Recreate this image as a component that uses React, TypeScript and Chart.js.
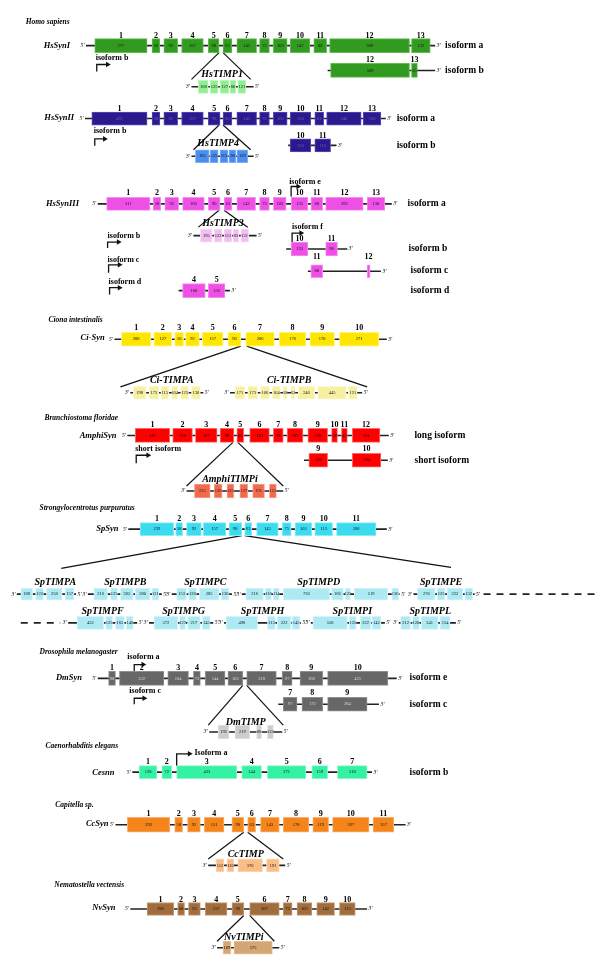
import React, { useEffect, useRef } from 'react';
import { Chart, registerables } from 'chart.js';

Chart.register(...registerables);

const SERIF = '"Liberation Serif", "Times New Roman", serif';

// ---------- colours ----------
const C_GREEN = '#329a20', E_GREEN = '#5fc04c';
const C_LGREEN = '#92ee92', E_LGREEN = '#b9f7b9';
const C_NAVY = '#2b1a8e', E_NAVY = '#5a4bc0';
const C_BLUE = '#4a8ef0', E_BLUE = '#7fb0f7';
const C_MAG = '#ee50e6', E_MAG = '#f78ef3';
const C_LMAG = '#f2bdf0', E_LMAG = '#f8dcf7';
const C_YEL = '#ffe600', E_YEL = '#fff27a';
const C_LYEL = '#f6f0a2', E_LYEL = '#fbf8d0';
const C_RED = '#ff0000', E_RED = '#ff6a6a';
const C_SAL = '#f26a4d', E_SAL = '#f8a08c';
const C_CYAN = '#3cdcf0', E_CYAN = '#8aebf7';
const C_LCYAN = '#aeeaf4', E_LCYAN = '#d2f4fa';
const C_GREY = '#676767', E_GREY = '#8f8f8f';
const C_LGREY = '#cdcdcd', E_LGREY = '#e2e2e2';
const C_TEAL = '#33f2a3', E_TEAL = '#86f8c8';
const C_ORA = '#f5841b', E_ORA = '#f9b070';
const C_LORA = '#fbbd86', E_LORA = '#fdd8b6';
const C_BRN = '#a26d3c', E_BRN = '#c49a70';
const C_LBRN = '#d4a674', E_LBRN = '#e6c6a2';

// ---------- exon data (start, end along the drawing axis) & sizes ----------
const HS1_EXONS: [number, number][] = [[92,145],[150,158],[162,176],[180,202],[207,218],[222,231],[236,256],[259,269],[273,287],[290,310],[314,327],[330,411],[413,432]];
const HS1_SIZES = ['377','58','92','157','98','63','143','75','103','147','88','589','132'];
const HS1_NUMS = ['1','2','3','4','5','6','7','8','9','10','11','12','13'];
const HS1B_EXONS: [number, number][] = [[331,411],[413,419]];
const HS1B_SIZES = ['589','25'];
const HS1B_NUMS = ['12','13'];
const HSTIMP1_EXONS: [number, number][] = [[197,207],[209,217],[219,228],[229,235],[237,245]];
const HSTIMP1_SIZES = ['168','125','127','80','121'];

const HS2_EXONS: [number, number][] = [[89,145],[150,158],[162,176],[180,202],[207,219],[222,231],[236,256],[259,269],[273,287],[290,311],[315,324],[327,362],[364,382]];
const HS2_SIZES = ['491','58','92','157','98','63','143','75','103','150','61','240','130'];
const HS2_NUMS = ['1','2','3','4','5','6','7','8','9','10','11','12','13'];
const HS2B_EXONS: [number, number][] = [[290,311],[315,331]];
const HS2B_SIZES = ['150','110'];
const HS2B_NUMS = ['10','11'];
const HSTIMP4_EXONS: [number, number][] = [[194,208],[209,217],[219,227],[228,235],[236,247]];
const HSTIMP4_SIZES = ['195','125','115','98','129'];

const HS3_EXONS: [number, number][] = [[104,148],[151,159],[163,177],[181,203],[207,219],[223,231],[236,255],[259,269],[273,286],[291,308],[311,323],[326,364],[368,386]];
const HS3_SIZES = ['311','58','92','160','90','63','143','75','103','135','88','292','130'];
const HS3_NUMS = ['1','2','3','4','5','6','7','8','9','10','11','12','13'];
const HSTIMP3_EXONS: [number, number][] = [[199,211],[213,221],[223,231],[232,238],[240,248]];
const HSTIMP3_SIZES = ['195','122','112','83','121'];
const HS3B_EXONS: [number, number][] = [[291,308],[326,338]];
const HS3B_SIZES = ['135','98'];
const HS3B_NUMS = ['10','11'];
const HS3C_EXONS: [number, number][] = [[311,323],[368,371]];
const HS3C_SIZES = ['88',''];
const HS3C_NUMS = ['11','12'];
const HS3D_EXONS: [number, number][] = [[181,204],[207,224]];
const HS3D_SIZES = ['160','135'];
const HS3D_NUMS = ['4','5'];

const CI_EXONS: [number, number][] = [[119,149],[152,170],[173,182],[184,198],[201,222],[227,240],[245,274],[279,306],[310,335],[340,380]];
const CI_SIZES = ['288','127','58','92','157','90','286','176','170','271'];
const CI_NUMS = ['1','2','3','4','5','6','7','8','9','10'];
const CITIMPA_EXONS: [number, number][] = [[131,144],[147,157],[159,167],[170,176],[179,187],[190,199]];
const CITIMPA_SIZES = ['198','173','115','104','125','130'];
const CITIMPB_EXONS: [number, number][] = [[234,244],[247,257],[260,269],[272,280],[283,287],[291,295],[298,315],[318,347],[349,358]];
const CITIMPB_SIZES = ['171','173','106','104','58','63','240','445','121'];

const AM_EXONS: [number, number][] = [[133,168],[171,191],[194,216],[219,233],[236,243],[249,269],[273,283],[287,303],[308,328],[332,338],[342,348],[353,381]];
const AM_SIZES = ['249','150','157','99','63','143','78','103','128','38','45','184'];
const AM_NUMS = ['1','2','3','4','5','6','7','8','9','10','11','12'];
const AMS_EXONS: [number, number][] = [[309,328],[353,382]];
const AMS_SIZES = ['128','184'];
const AMS_NUMS = ['9','10'];
const AMTIMP_EXONS: [number, number][] = [[193,209],[213,221],[226,233],[239,247],[252,264],[269,276]];
const AMTIMP_SIZES = ['225','126','125','127','191','112'];

const SP_EXONS: [number, number][] = [[138,172],[174,181],[185,200],[202,225],[228,241],[244,251],[256,278],[282,291],[295,312],[315,333],[337,377]];
const SP_SIZES = ['239','58','92','157','98','63','143','75','103','113','288'];
const SP_NUMS = ['1','2','3','4','5','6','7','8','9','10','11'];
const SPA_EXONS: [number, number][] = [[17,29],[32,40],[43,59],[62,71]];
const SPA_SIZES = ['188','122','258','157'];
const SPB_EXONS: [number, number][] = [[91,105],[108,115],[118,131],[133,148],[150,157]];
const SPB_SIZES = ['216','125','205','280','121'];
const SPC_EXONS: [number, number][] = [[175,185],[187,195],[198,218],[220,228]];
const SPC_SIZES = ['153','128','285','130'];
const SPD_EXONS: [number, number][] = [[245,263],[265,271],[273,279],[283,330],[332,344],[346,351],[355,389],[393,400]];
const SPD_SIZES = ['216','116','114','720','166','125','519','130'];
const SPE_EXONS: [number, number][] = [[419,437],[439,447],[449,465],[467,475]];
const SPE_SIZES = ['270','125','222','132'];
const SPF_EXONS: [number, number][] = [[74,101],[103,110],[113,122],[124,131]];
const SPF_SIZES = ['432','125','165','146'];
const SPG_EXONS: [number, number][] = [[152,176],[178,184],[186,199],[201,209]];
const SPG_SIZES = ['372','127','217','145'];
const SPH_EXONS: [number, number][] = [[225,257],[267,275],[277,291],[292,300]];
const SPH_SIZES = ['498','113','222','145'];
const SPI_EXONS: [number, number][] = [[313,348],[350,357],[361,372],[373,382]];
const SPI_SIZES = ['558','125','222','142'];
const SPL_EXONS: [number, number][] = [[402,412],[414,421],[423,440],[442,452]];
const SPL_SIZES = ['212','120','241','154'];

const DM_EXONS: [number, number][] = [[106,113],[117,162],[166,187],[192,199],[204,224],[227,242],[246,276],[282,292],[300,323],[328,389]];
const DM_SIZES = ['98','332','164','72','144','105','218','97','168','425'];
const DM_NUMS = ['1','2','3','4','5','6','7','8','9','10'];
const DMC_EXONS: [number, number][] = [[283,297],[302,323],[328,368]];
const DMC_SIZES = ['97','172','284'];
const DMC_NUMS = ['7','8','9'];
const DMTIMP_EXONS: [number, number][] = [[217,228],[234,249],[256,261],[267,273]];
const DMTIMP_SIZES = ['192','219','86','132'];

const CE_EXONS: [number, number][] = [[137,155],[160,170],[175,236],[241,261],[267,306],[312,328],[338,368]];
const CE_SIZES = ['128','72','433','144','271','159','218'];
const CE_NUMS = ['1','2','3','4','5','6','7'];

const CC_EXONS: [number, number][] = [[125,168],[173,181],[186,199],[203,223],[231,243],[247,255],[260,279],[283,309],[313,329],[333,370],[374,395]];
const CC_SIZES = ['293','58','92','151','98','63','143','178','119','267','157'];
const CC_NUMS = ['1','2','3','4','5','6','7','8','9','10','11'];
const CCTIMP_EXONS: [number, number][] = [[215,223],[226,233],[237,262],[266,279]];
const CCTIMP_SIZES = ['112','110','370','191'];

const NV_EXONS: [number, number][] = [[145,172],[176,183],[187,199],[204,226],[231,243],[249,279],[283,292],[297,312],[317,335],[340,356]];
const NV_SIZES = ['280','60','92','157','90','207','75','103','142','113'];
const NV_NUMS = ['1','2','3','4','5','6','7','8','9','10'];
const NVTIMP_EXONS: [number, number][] = [[222,230],[233,272]];
const NVTIMP_SIZES = ['109','575'];

type Row = {
  y: number; line: [number, number]; exons: [number, number][]; sizes: string[];
  fill: string; edge: string; h: number; nums?: string[]; numY?: number;
  left?: string; right?: string; sizeColor?: string;
};

const P5 = "5'";
const P3 = "3'";

const ROWS: Row[] = [
  { y: 42, line: [83, 437], exons: HS1_EXONS, sizes: HS1_SIZES, nums: HS1_NUMS, numY: 32, fill: C_GREEN, edge: E_GREEN, h: 14, left: P5, right: P3 },
  { y: 67, line: [328, 437], exons: HS1B_EXONS, sizes: HS1B_SIZES, nums: HS1B_NUMS, numY: 56, fill: C_GREEN, edge: E_GREEN, h: 14, right: P3 },
  { y: 83.5, line: [190, 253], exons: HSTIMP1_EXONS, sizes: HSTIMP1_SIZES, fill: C_LGREEN, edge: E_LGREEN, h: 13, left: P3, right: P5 },
  { y: 115.5, line: [82, 387], exons: HS2_EXONS, sizes: HS2_SIZES, nums: HS2_NUMS, numY: 106, fill: C_NAVY, edge: E_NAVY, h: 13, left: P5, right: P3, sizeColor: '#6a64a8' },
  { y: 142.5, line: [288, 337], exons: HS2B_EXONS, sizes: HS2B_SIZES, nums: HS2B_NUMS, numY: 133, fill: C_NAVY, edge: E_NAVY, h: 13, right: P3, sizeColor: '#6a64a8' },
  { y: 153.5, line: [190, 253], exons: HSTIMP4_EXONS, sizes: HSTIMP4_SIZES, fill: C_BLUE, edge: E_BLUE, h: 13, left: P3, right: P5 },
  { y: 201.5, line: [95, 393], exons: HS3_EXONS, sizes: HS3_SIZES, nums: HS3_NUMS, numY: 191, fill: C_MAG, edge: E_MAG, h: 13, left: P5, right: P3 },
  { y: 233.5, line: [192, 256], exons: HSTIMP3_EXONS, sizes: HSTIMP3_SIZES, fill: C_LMAG, edge: E_LMAG, h: 13, left: P3, right: P5 },
  { y: 247, line: [286, 348], exons: HS3B_EXONS, sizes: HS3B_SIZES, nums: HS3B_NUMS, numY: 237, fill: C_MAG, edge: E_MAG, h: 14, right: P3 },
  { y: 269.5, line: [308, 382], exons: HS3C_EXONS, sizes: HS3C_SIZES, nums: HS3C_NUMS, numY: 255, fill: C_MAG, edge: E_MAG, h: 13, right: P3 },
  { y: 289, line: [177, 229], exons: HS3D_EXONS, sizes: HS3D_SIZES, nums: HS3D_NUMS, numY: 278, fill: C_MAG, edge: E_MAG, h: 14, right: P3 },
  { y: 338, line: [112, 388], exons: CI_EXONS, sizes: CI_SIZES, nums: CI_NUMS, numY: 327, fill: C_YEL, edge: E_YEL, h: 14, left: P5, right: P3 },
  { y: 392, line: [128, 202], exons: CITIMPA_EXONS, sizes: CITIMPA_SIZES, fill: C_LYEL, edge: E_LYEL, h: 13, left: P3, right: P5 },
  { y: 392, line: [229, 363], exons: CITIMPB_EXONS, sizes: CITIMPB_SIZES, fill: C_LYEL, edge: E_LYEL, h: 13, left: P3, right: P5 },
  { y: 435, line: [125, 390], exons: AM_EXONS, sizes: AM_SIZES, nums: AM_NUMS, numY: 424, fill: C_RED, edge: E_RED, h: 14, left: P5, right: P3 },
  { y: 460, line: [304, 389], exons: AMS_EXONS, sizes: AMS_SIZES, nums: AMS_NUMS, numY: 449, fill: C_RED, edge: E_RED, h: 14, right: P3 },
  { y: 491, line: [185, 283], exons: AMTIMP_EXONS, sizes: AMTIMP_SIZES, fill: C_SAL, edge: E_SAL, h: 14, left: P3, right: P5 },
  { y: 529.5, line: [126, 388], exons: SP_EXONS, sizes: SP_SIZES, nums: SP_NUMS, numY: 519, fill: C_CYAN, edge: E_CYAN, h: 13, left: P5, right: P3 },
  { y: 595, line: [13, 73], exons: SPA_EXONS, sizes: SPA_SIZES, fill: C_LCYAN, edge: E_LCYAN, h: 12, left: P3, right: P5 },
  { y: 595, line: [85, 160], exons: SPB_EXONS, sizes: SPB_SIZES, fill: C_LCYAN, edge: E_LCYAN, h: 12, left: P3, right: P5 },
  { y: 595, line: [170, 231], exons: SPC_EXONS, sizes: SPC_SIZES, fill: C_LCYAN, edge: E_LCYAN, h: 12, left: P3, right: P5 },
  { y: 595, line: [241, 401], exons: SPD_EXONS, sizes: SPD_SIZES, fill: C_LCYAN, edge: E_LCYAN, h: 12, left: P3, right: P5 },
  { y: 595, line: [415, 477], exons: SPE_EXONS, sizes: SPE_SIZES, fill: C_LCYAN, edge: E_LCYAN, h: 12, left: P3, right: P5 },
  { y: 624, line: [65, 135], exons: SPF_EXONS, sizes: SPF_SIZES, fill: C_LCYAN, edge: E_LCYAN, h: 13, left: P3, right: P5 },
  { y: 624, line: [147, 212], exons: SPG_EXONS, sizes: SPG_SIZES, fill: C_LCYAN, edge: E_LCYAN, h: 13, left: P3, right: P5 },
  { y: 624, line: [223, 301], exons: SPH_EXONS, sizes: SPH_SIZES, fill: C_LCYAN, edge: E_LCYAN, h: 13, left: P3, right: P5 },
  { y: 624, line: [311, 386], exons: SPI_EXONS, sizes: SPI_SIZES, fill: C_LCYAN, edge: E_LCYAN, h: 13, left: P3, right: P5 },
  { y: 624, line: [400, 458], exons: SPL_EXONS, sizes: SPL_SIZES, fill: C_LCYAN, edge: E_LCYAN, h: 13, left: P3, right: P5 },
  { y: 680, line: [95, 398], exons: DM_EXONS, sizes: DM_SIZES, nums: DM_NUMS, numY: 669, fill: C_GREY, edge: E_GREY, h: 14, left: P5, right: P3, sizeColor: '#dddddd' },
  { y: 706, line: [278, 380], exons: DMC_EXONS, sizes: DMC_SIZES, nums: DMC_NUMS, numY: 695, fill: C_GREY, edge: E_GREY, h: 14, right: P3, sizeColor: '#dddddd' },
  { y: 734, line: [208, 282], exons: DMTIMP_EXONS, sizes: DMTIMP_SIZES, fill: C_LGREY, edge: E_LGREY, h: 14, left: P3, right: P5 },
  { y: 774.5, line: [130, 373], exons: CE_EXONS, sizes: CE_SIZES, nums: CE_NUMS, numY: 764, fill: C_TEAL, edge: E_TEAL, h: 13, left: P5, right: P3 },
  { y: 827.5, line: [113, 407], exons: CC_EXONS, sizes: CC_SIZES, nums: CC_NUMS, numY: 817, fill: C_ORA, edge: E_ORA, h: 15, left: P5, right: P3 },
  { y: 868.5, line: [207, 285], exons: CCTIMP_EXONS, sizes: CCTIMP_SIZES, fill: C_LORA, edge: E_LORA, h: 13, left: P3, right: P5 },
  { y: 912.5, line: [128, 368], exons: NV_EXONS, sizes: NV_SIZES, nums: NV_NUMS, numY: 903, fill: C_BRN, edge: E_BRN, h: 13, left: P5, right: P3 },
  { y: 951.5, line: [216, 279], exons: NVTIMP_EXONS, sizes: NVTIMP_SIZES, fill: C_LBRN, edge: E_LBRN, h: 13, left: P3, right: P5 },
];

// TIMP insertion connector lines: x0, y0, x1, y1
const CONNECTORS: [number, number, number, number][] = [
  [218, 49, 190, 76], [222, 49, 250, 76],
  [218, 122, 192, 147], [222, 122, 250, 147],
  [218, 208, 197, 225], [223, 208, 247, 225],
  [240, 345, 118, 386], [246, 345, 368, 386],
  [232, 442, 185, 486], [237, 442, 283, 486],
  [241, 536, 58, 569], [244, 536, 453, 568],
  [242, 687, 207, 727], [246, 687, 283, 727],
  [243, 835, 207, 862], [247, 835, 283, 862],
  [243, 919, 216, 945], [249, 919, 274, 945],
];

// transcription start arrows: x, yBottom, yTop, xTip
const ARROWS: [number, number, number, number][] = [
  [94, 68, 61, 105], [92, 143, 136, 102], [291, 194, 184, 298],
  [105, 246, 240, 116], [292, 240, 231, 301], [106, 271, 263, 117],
  [107, 293, 286, 117], [134, 463, 455, 146], [132, 673, 666, 141],
  [132, 706, 700, 142], [175, 768, 756, 188],
];

// dashed continuation lines: x0, x1, y
const DASHES: [number, number, number][] = [[486, 600, 595], [17, 57, 624]];

type Lbl = { t: string; x: number; y: number; k: 'sp' | 'gene' | 'timp' | 'isoR' | 'isoL' };
const LABELS: Lbl[] = [
  { t: 'Homo sapiens', x: 22, y: 18, k: 'sp' },
  { t: 'Ciona intestinalis', x: 45, y: 319, k: 'sp' },
  { t: 'Branchiostoma floridae', x: 41, y: 417, k: 'sp' },
  { t: 'Strongylocentrotus purpuratus', x: 36, y: 508, k: 'sp' },
  { t: 'Drosophila melanogaster', x: 36, y: 653, k: 'sp' },
  { t: 'Caenorhabditis elegans', x: 42, y: 748, k: 'sp' },
  { t: 'Capitella sp.', x: 52, y: 808, k: 'sp' },
  { t: 'Nematostella vectensis', x: 51, y: 888, k: 'sp' },
  { t: 'HsSynI', x: 67, y: 42, k: 'gene' },
  { t: 'HsSynII', x: 71, y: 115, k: 'gene' },
  { t: 'HsSynIII', x: 76, y: 201, k: 'gene' },
  { t: 'Ci-Syn', x: 102, y: 337, k: 'gene' },
  { t: 'AmphiSyn', x: 114, y: 435, k: 'gene' },
  { t: 'SpSyn', x: 116, y: 529, k: 'gene' },
  { t: 'DmSyn', x: 79, y: 679, k: 'gene' },
  { t: 'Cesnn', x: 112, y: 775, k: 'gene' },
  { t: 'CcSyn', x: 106, y: 827, k: 'gene' },
  { t: 'NvSyn', x: 113, y: 911, k: 'gene' },
  { t: 'HsTIMP1', x: 221, y: 71, k: 'timp' },
  { t: 'HsTIMP4', x: 217, y: 141, k: 'timp' },
  { t: 'HsTIMP3', x: 222, y: 221, k: 'timp' },
  { t: 'Ci-TIMPA', x: 170, y: 380, k: 'timp' },
  { t: 'Ci-TIMPB', x: 289, y: 380, k: 'timp' },
  { t: 'AmphiTIMPi', x: 229, y: 479, k: 'timp' },
  { t: 'SpTIMPA', x: 52, y: 583, k: 'timp' },
  { t: 'SpTIMPB', x: 123, y: 583, k: 'timp' },
  { t: 'SpTIMPC', x: 204, y: 583, k: 'timp' },
  { t: 'SpTIMPD', x: 319, y: 583, k: 'timp' },
  { t: 'SpTIMPE', x: 443, y: 583, k: 'timp' },
  { t: 'SpTIMPF', x: 100, y: 612, k: 'timp' },
  { t: 'SpTIMPG', x: 182, y: 612, k: 'timp' },
  { t: 'SpTIMPH', x: 262, y: 612, k: 'timp' },
  { t: 'SpTIMPI', x: 353, y: 612, k: 'timp' },
  { t: 'SpTIMPL', x: 432, y: 612, k: 'timp' },
  { t: 'DmTIMP', x: 245, y: 724, k: 'timp' },
  { t: 'CcTIMP', x: 245, y: 857, k: 'timp' },
  { t: 'NvTIMPi', x: 243, y: 941, k: 'timp' },
  { t: 'isoform a', x: 447, y: 42, k: 'isoR' },
  { t: 'isoform b', x: 447, y: 67, k: 'isoR' },
  { t: 'isoform a', x: 398, y: 115, k: 'isoR' },
  { t: 'isoform b', x: 398, y: 143, k: 'isoR' },
  { t: 'isoform a', x: 409, y: 201, k: 'isoR' },
  { t: 'isoform b', x: 410, y: 247, k: 'isoR' },
  { t: 'isoform c', x: 412, y: 269, k: 'isoR' },
  { t: 'isoform d', x: 412, y: 289, k: 'isoR' },
  { t: 'long isoform', x: 416, y: 435, k: 'isoR' },
  { t: 'short isoform', x: 416, y: 460, k: 'isoR' },
  { t: 'isoform e', x: 411, y: 679, k: 'isoR' },
  { t: 'isoform c', x: 411, y: 706, k: 'isoR' },
  { t: 'isoform b', x: 411, y: 775, k: 'isoR' },
  { t: 'isoform b', x: 93, y: 54, k: 'isoL' },
  { t: 'isoform b', x: 91, y: 128, k: 'isoL' },
  { t: 'isoform e', x: 289, y: 179, k: 'isoL' },
  { t: 'isoform f', x: 292, y: 225, k: 'isoL' },
  { t: 'isoform b', x: 105, y: 234, k: 'isoL' },
  { t: 'isoform c', x: 105, y: 258, k: 'isoL' },
  { t: 'isoform d', x: 106, y: 280, k: 'isoL' },
  { t: 'short isoform', x: 133, y: 449, k: 'isoL' },
  { t: 'isoform a', x: 125, y: 658, k: 'isoL' },
  { t: 'isoform c', x: 127, y: 693, k: 'isoL' },
  { t: 'Isoform a', x: 193, y: 755, k: 'isoL' },
];

const FONTS: Record<Lbl['k'], { font: string; align: CanvasTextAlign }> = {
  sp: { font: `italic bold 7.5px ${SERIF}`, align: 'left' },
  gene: { font: `italic bold 8.5px ${SERIF}`, align: 'right' },
  timp: { font: `italic bold 10px ${SERIF}`, align: 'center' },
  isoR: { font: `bold 9.5px ${SERIF}`, align: 'left' },
  isoL: { font: `bold 8px ${SERIF}`, align: 'left' },
};

type TextItem = { t: string; x: number; y: number; font: string; align: CanvasTextAlign; color: string };

function buildTexts(): TextItem[] {
  const out: TextItem[] = [];
  for (const r of ROWS) {
    r.exons.forEach((e, i) => {
      const cx = (e[0] + e[1]) / 2;
      if (r.sizes[i]) out.push({ t: r.sizes[i], x: cx, y: r.y, font: `4.5px ${SERIF}`, align: 'center', color: r.sizeColor || '#111' });
      if (r.nums && r.numY !== undefined) out.push({ t: r.nums[i], x: cx, y: r.numY, font: `bold 8px ${SERIF}`, align: 'center', color: '#000' });
    });
    if (r.left) out.push({ t: r.left, x: r.line[0] - 1.5, y: r.y, font: `italic 5.5px ${SERIF}`, align: 'right', color: '#000' });
    if (r.right) out.push({ t: r.right, x: r.line[1] + 1.5, y: r.y, font: `italic 5.5px ${SERIF}`, align: 'left', color: '#000' });
  }
  for (const l of LABELS) {
    const f = FONTS[l.k];
    out.push({ t: l.t, x: l.x, y: l.y, font: f.font, align: f.align, color: '#000' });
  }
  return out;
}

const textPlugin = {
  id: 'geneText',
  afterDatasetsDraw(chart: any) {
    const { ctx, scales } = chart;
    const items = buildTexts();
    ctx.save();
    ctx.textBaseline = 'middle';
    for (const it of items) {
      ctx.font = it.font;
      ctx.textAlign = it.align;
      ctx.fillStyle = it.color;
      ctx.fillText(it.t, scales.x.getPixelForValue(it.x), scales.y.getPixelForValue(it.y));
    }
    ctx.restore();
  },
};

function buildDatasets(): any[] {
  const ds: any[] = [];
  for (const r of ROWS) {
    ds.push({
      type: 'line', order: 2,
      data: [{ x: r.line[0], y: r.y }, { x: r.line[1], y: r.y }],
      borderColor: '#222', borderWidth: 1.6, pointRadius: 0, fill: false, tension: 0,
    });
    ds.push({
      type: 'bar', order: 0, indexAxis: 'y', grouped: false,
      data: r.exons.map((e) => ({ x: [e[0], e[1]], y: r.y })),
      backgroundColor: r.fill, borderColor: r.edge, borderWidth: 1, borderSkipped: false,
      barThickness: r.h,
    });
  }
  for (const c of CONNECTORS) {
    ds.push({
      type: 'line', order: 1,
      data: [{ x: c[0], y: c[1] }, { x: c[2], y: c[3] }],
      borderColor: '#111', borderWidth: 1.2, pointRadius: 0, fill: false, tension: 0,
    });
  }
  for (const a of ARROWS) {
    ds.push({
      type: 'line', order: 1,
      data: [{ x: a[0], y: a[1] }, { x: a[0], y: a[2] }, { x: a[3], y: a[2] }],
      borderColor: '#111', borderWidth: 1.3, fill: false, tension: 0,
      pointRadius: (c: any) => (c.dataIndex === 2 ? 3.2 : 0),
      pointStyle: 'triangle', pointRotation: 90,
      pointBackgroundColor: '#111', pointBorderColor: '#111', pointBorderWidth: 0,
    });
  }
  for (const d of DASHES) {
    ds.push({
      type: 'line', order: 1,
      data: [{ x: d[0], y: d[2] }, { x: d[1], y: d[2] }],
      borderColor: '#222', borderWidth: 1.6, borderDash: [7, 6], pointRadius: 0, fill: false,
    });
  }
  return ds;
}

export default function App() {
  const ref = useRef<HTMLCanvasElement>(null);
  useEffect(() => {
    document.body.style.margin = '0';
    const canvas = ref.current;
    if (!canvas) return;
    const chart = new Chart(canvas, {
      type: 'bar',
      data: { datasets: buildDatasets() },
      options: {
        animation: false,
        responsive: false,
        events: [],
        layout: { padding: 0 },
        plugins: { legend: { display: false }, tooltip: { enabled: false } },
        scales: {
          x: { type: 'linear', min: 0, max: 600, display: false, offset: false },
          y: { type: 'linear', min: 0, max: 975, reverse: true, display: false, offset: false },
        },
      } as any,
      plugins: [textPlugin],
    } as any);
    return () => chart.destroy();
  }, []);
  return (
    <div style={{ width: 600, height: 975, background: '#fff' }}>
      <canvas ref={ref} width={600} height={975} style={{ display: 'block', width: 600, height: 975 }} />
    </div>
  );
}
